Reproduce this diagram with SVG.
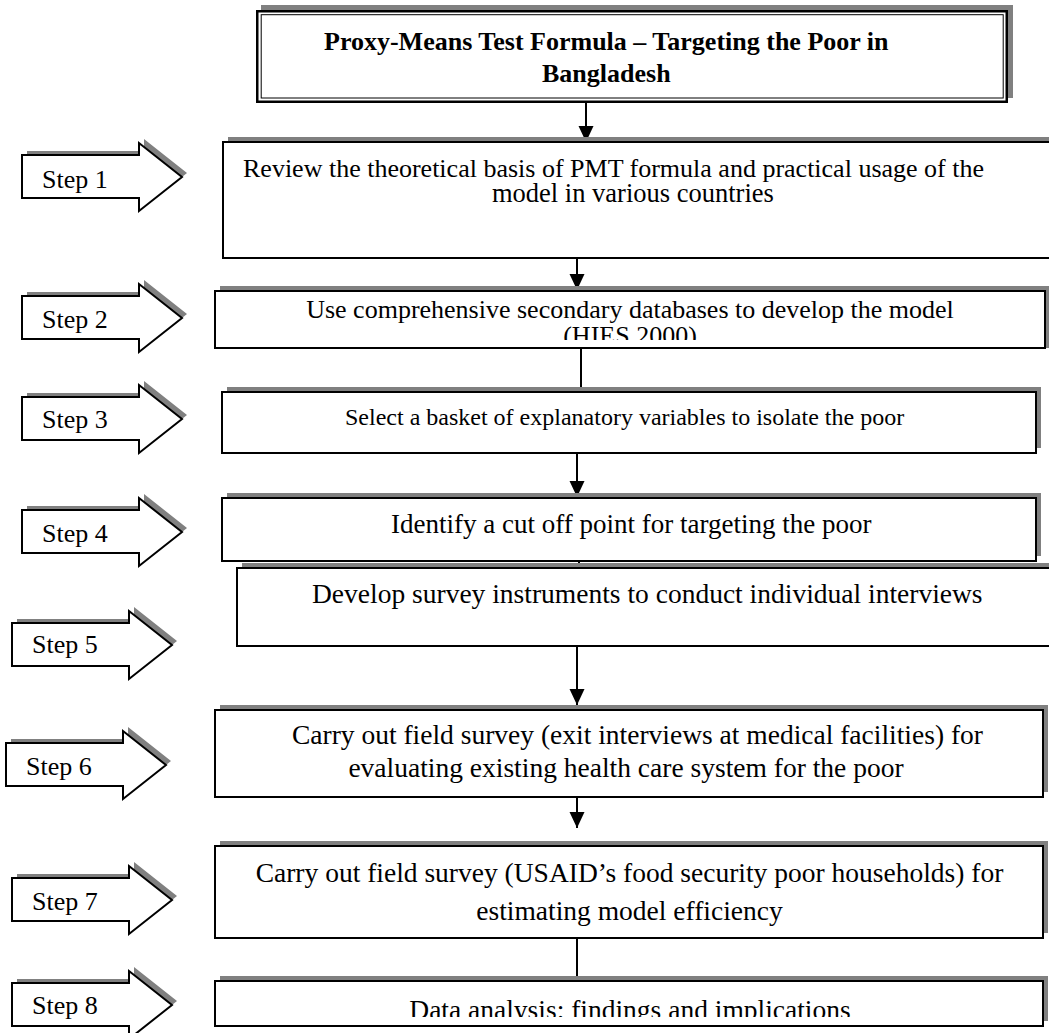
<svg xmlns="http://www.w3.org/2000/svg" width="1049" height="1033" viewBox="0 0 1049 1033">
<defs>
<style>
.shadow{fill:#808080;stroke:none}
.box{fill:#fff;stroke:#000;stroke-width:2}
.arrow{fill:#fff;stroke:#000;stroke-width:2;stroke-linejoin:miter}
.t{font-family:"Liberation Serif","Times New Roman",serif;fill:#000}
.conn{stroke:#000;stroke-width:2;fill:none}
</style>
<marker id="ah" markerUnits="userSpaceOnUse" markerWidth="16" markerHeight="16" refX="16" refY="7.5" orient="auto" viewBox="0 0 16 15">
<path d="M0,0 L16,7.5 L0,15 z" fill="#000"/>
</marker>
<polygon id="stepShape" points="0,12 117,12 117,0 160,34 117,68 117,55 0,55"/>
<clipPath id="clip2"><rect x="215" y="291" width="834" height="49"/></clipPath>
<clipPath id="clip8"><rect x="215" y="981" width="834" height="36"/></clipPath>
</defs>
<rect width="1049" height="1033" fill="#fff"/>

<g id="title">
<rect class="shadow" x="261" y="5" width="752" height="93"/>
<rect x="257.25" y="11.25" width="749.5" height="90.5" fill="#fff" stroke="#000" stroke-width="2.5"/>
<rect x="261.2" y="14.7" width="742" height="83.3" fill="none" stroke="#000" stroke-width="1"/>
<text class="t" x="324" y="50" font-size="26" font-weight="bold">Proxy-Means Test Formula – Targeting the Poor in</text>
<text class="t" x="542" y="82" font-size="26" font-weight="bold">Bangladesh</text>
</g>

<g id="connectors">
<line class="conn" x1="586" y1="103" x2="586" y2="142" marker-end="url(#ah)"/>
<line class="conn" x1="577" y1="258" x2="577" y2="290" marker-end="url(#ah)"/>
<line class="conn" x1="581" y1="348" x2="581" y2="392"/>
<line class="conn" x1="577" y1="453" x2="577" y2="497" marker-end="url(#ah)"/>
<line class="conn" x1="579" y1="561" x2="579" y2="568"/>
<line class="conn" x1="577" y1="646" x2="577" y2="705" marker-end="url(#ah)"/>
<line class="conn" x1="577" y1="797" x2="577" y2="828" marker-end="url(#ah)"/>
<line class="conn" x1="577" y1="939" x2="577" y2="977"/>
</g>

<g id="box1">
<rect class="shadow" x="228" y="137" width="830" height="121"/>
<rect class="box" x="223" y="142" width="830" height="116"/>
<text class="t" x="243" y="177" font-size="26">Review the theoretical basis of PMT formula and practical usage of the</text>
<text class="t" x="492" y="202" font-size="26.5">model in various countries</text>
</g>

<g id="box2">
<rect class="shadow" x="220" y="286" width="830" height="62"/>
<rect class="box" x="215" y="291" width="830" height="57"/>
<g clip-path="url(#clip2)">
<text class="t" x="630" y="318" font-size="26" text-anchor="middle">Use comprehensive secondary databases to develop the model</text>
<text class="t" x="630" y="344" font-size="26" text-anchor="middle">(HIES 2000)</text>
</g>
</g>

<g id="box3">
<rect class="shadow" x="227" y="387" width="814" height="61"/>
<rect class="box" x="222" y="392" width="814" height="61"/>
<text class="t" x="345" y="425" font-size="24">Select a basket of explanatory variables to isolate the poor</text>
</g>

<g id="box4">
<rect class="shadow" x="227" y="493" width="814" height="63"/>
<rect class="box" x="222" y="498" width="814" height="63"/>
<text class="t" x="391" y="533" font-size="27">Identify a cut off point for targeting the poor</text>
</g>

<g id="box5">
<rect class="shadow" x="242" y="563" width="830" height="78"/>
<rect class="box" x="237" y="568" width="830" height="78"/>
<text class="t" x="312" y="603" font-size="27.5">Develop survey instruments to conduct individual interviews</text>
</g>

<g id="box6">
<rect class="shadow" x="220" y="705" width="828" height="87"/>
<rect class="box" x="215" y="710" width="828" height="87"/>
<text class="t" x="983" y="744" font-size="27.5" text-anchor="end">Carry out field survey (exit interviews at medical facilities) for</text>
<text class="t" x="626" y="777" font-size="27.5" text-anchor="middle">evaluating existing health care system for the poor</text>
</g>

<g id="box7">
<rect class="shadow" x="220" y="841" width="828" height="92"/>
<rect class="box" x="215" y="846" width="828" height="92"/>
<text class="t" x="629.5" y="882" font-size="27.5" text-anchor="middle">Carry out field survey (USAID’s food security poor households) for</text>
<text class="t" x="629.5" y="920" font-size="27.5" text-anchor="middle">estimating model efficiency</text>
</g>

<g id="box8">
<rect class="shadow" x="220" y="976" width="828" height="45"/>
<rect class="box" x="215" y="981" width="828" height="45"/>
<g clip-path="url(#clip8)">
<text class="t" x="630" y="1019" font-size="27.5" text-anchor="middle">Data analysis: findings and implications</text>
</g>
</g>

<g id="step1">
<use href="#stepShape" class="shadow" transform="translate(27,139)"/>
<use href="#stepShape" class="arrow" transform="translate(22,143)"/>
<text class="t" x="42" y="188" font-size="26">Step 1</text>
</g>
<g id="step2">
<use href="#stepShape" class="shadow" transform="translate(27,280)"/>
<use href="#stepShape" class="arrow" transform="translate(22,284)"/>
<text class="t" x="42" y="328" font-size="26">Step 2</text>
</g>
<g id="step3">
<use href="#stepShape" class="shadow" transform="translate(27,381)"/>
<use href="#stepShape" class="arrow" transform="translate(22,385)"/>
<text class="t" x="42" y="428" font-size="26">Step 3</text>
</g>
<g id="step4">
<use href="#stepShape" class="shadow" transform="translate(27,494)"/>
<use href="#stepShape" class="arrow" transform="translate(22,498)"/>
<text class="t" x="42" y="542" font-size="26">Step 4</text>
</g>
<g id="step5">
<use href="#stepShape" class="shadow" transform="translate(17,607)"/>
<use href="#stepShape" class="arrow" transform="translate(12,611)"/>
<text class="t" x="32" y="653" font-size="26">Step 5</text>
</g>
<g id="step6">
<use href="#stepShape" class="shadow" transform="translate(11,727)"/>
<use href="#stepShape" class="arrow" transform="translate(6,731)"/>
<text class="t" x="26" y="775" font-size="26">Step 6</text>
</g>
<g id="step7">
<use href="#stepShape" class="shadow" transform="translate(17,862)"/>
<use href="#stepShape" class="arrow" transform="translate(12,866)"/>
<text class="t" x="32" y="910" font-size="26">Step 7</text>
</g>
<g id="step8">
<use href="#stepShape" class="shadow" transform="translate(17,967)"/>
<use href="#stepShape" class="arrow" transform="translate(12,971)"/>
<text class="t" x="32" y="1014" font-size="26">Step 8</text>
</g>
</svg>
